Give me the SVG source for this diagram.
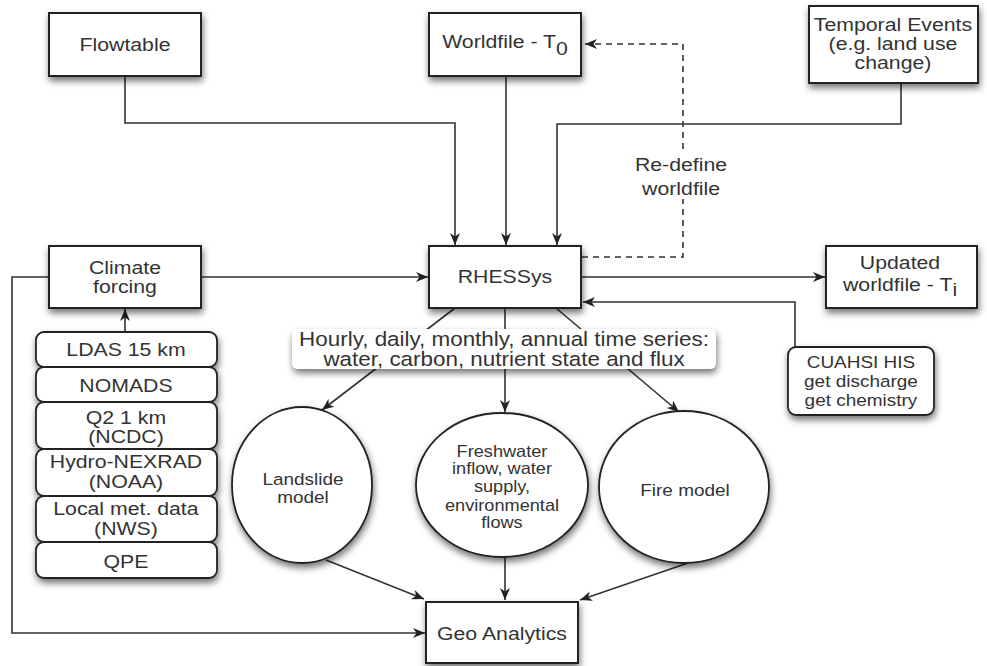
<svg xmlns="http://www.w3.org/2000/svg" width="987" height="666" viewBox="0 0 987 666">
<defs>
<filter id="sh" x="-20%" y="-20%" width="140%" height="150%">
<feDropShadow dx="1" dy="4" stdDeviation="3.5" flood-color="#000" flood-opacity="0.55"/>
</filter>
<marker id="ar" markerUnits="userSpaceOnUse" markerWidth="14" markerHeight="12" refX="12" refY="5" orient="auto" viewBox="0 0 14 12">
<path d="M0,0 L12,5 L0,10 L3.5,5 Z" fill="#222"/>
</marker>
</defs>
<style>
.bx{fill:#fff;stroke:#222;stroke-width:2}
.rb{fill:#fff;stroke:#222;stroke-width:1.8}
.el{fill:#fff;stroke:#222;stroke-width:1.8}
.ln{fill:none;stroke:#333;stroke-width:1.6}
.da{fill:none;stroke:#333;stroke-width:1.6;stroke-dasharray:6 5}
text{font-family:"Liberation Sans",Arial,sans-serif;fill:#333;text-anchor:middle;transform-box:fill-box;transform-origin:center;transform:scaleX(1.15)}
.m{font-size:18.5px}
.s{font-size:18.5px}
.c{font-size:16.5px}
.e{font-size:16.5px}
.f{font-size:15.8px}
.t{font-size:19.5px}
</style>
<rect width="987" height="666" fill="#fff"/>

<g id="connectors">
<path class="ln" d="M125,76 V123 H455 V245" marker-end="url(#ar)"/>
<path class="ln" d="M506,76 V245" marker-end="url(#ar)"/>
<path class="ln" d="M901,83 V124 H557 V245" marker-end="url(#ar)"/>
<path class="ln" d="M202,277 H428" marker-end="url(#ar)"/>
<path class="ln" d="M581,277 H825" marker-end="url(#ar)"/>
<path class="ln" d="M795,347 V302 H583" marker-end="url(#ar)"/>
<path class="ln" d="M125,332 V309" marker-end="url(#ar)"/>
<path class="ln" d="M49,277 H12 V633 H425" marker-end="url(#ar)"/>
<path class="ln" d="M455,308 L322,410" marker-end="url(#ar)"/>
<path class="ln" d="M505,308 V412" marker-end="url(#ar)"/>
<path class="ln" d="M556,308 L679,412" marker-end="url(#ar)"/>
<path class="ln" d="M326,560 L424,599" marker-end="url(#ar)"/>
<path class="ln" d="M505,557 V600" marker-end="url(#ar)"/>
<path class="ln" d="M688,563 L580,600" marker-end="url(#ar)"/>
<path class="da" d="M582,257 H683 V44 H585" marker-end="url(#ar)"/>
<rect x="632" y="153" width="100" height="46" fill="#fff"/>
<text class="s" x="681" y="171">Re-define</text>
<text class="s" x="681" y="195">worldfile</text>
</g>

<g id="flowtable">
<rect class="bx" x="49" y="13" width="152" height="63" filter="url(#sh)"/>
<text class="m" x="125" y="51">Flowtable</text>
</g>

<g id="worldfile">
<rect class="bx" x="429" y="13" width="152" height="63" filter="url(#sh)"/>
<text class="m" x="505" y="48">Worldfile - T<tspan dy="7">0</tspan></text>
</g>

<g id="temporal">
<rect class="bx" x="809" y="6" width="169" height="77" filter="url(#sh)"/>
<text class="m" x="893" y="31">Temporal Events</text>
<text class="m" x="893" y="50">(e.g. land use</text>
<text class="m" x="893" y="69">change)</text>
</g>

<g id="climate">
<rect class="bx" x="49" y="246" width="152" height="62" filter="url(#sh)"/>
<text class="m" x="125" y="274">Climate</text>
<text class="m" x="125" y="293">forcing</text>
</g>

<g id="rhessys">
<rect class="bx" x="429" y="246" width="152" height="62" filter="url(#sh)"/>
<text class="m" x="505" y="283">RHESSys</text>
</g>

<g id="updated">
<rect class="bx" x="826" y="246" width="151" height="62" filter="url(#sh)"/>
<text class="m" x="900" y="269">Updated</text>
<text class="m" x="900" y="291">worldfile - T<tspan dy="5">i</tspan></text>
</g>

<g id="timeseries">
<rect class="rb" x="292" y="329" width="424" height="40" rx="6" style="stroke:none" filter="url(#sh)"/>
<text class="t" x="504" y="346">Hourly, daily, monthly, annual time series:</text>
<text class="t" x="504" y="366">water, carbon, nutrient state and flux</text>
</g>

<g id="cuahsi">
<rect class="rb" x="788" y="347" width="146" height="68" rx="8" filter="url(#sh)"/>
<text class="c" x="861" y="368">CUAHSI HIS</text>
<text class="c" x="861" y="387">get discharge</text>
<text class="c" x="861" y="406">get chemistry</text>
</g>

<g id="sources">
<g filter="url(#sh)">
<rect class="rb" x="36" y="332" width="181" height="35" rx="8"/>
<rect class="rb" x="36" y="367" width="181" height="35" rx="8"/>
<rect class="rb" x="36" y="402" width="181" height="47" rx="8"/>
<rect class="rb" x="36" y="449" width="181" height="47" rx="8"/>
<rect class="rb" x="36" y="496" width="181" height="46" rx="8"/>
<rect class="rb" x="36" y="542" width="181" height="36" rx="8"/>
</g>
<text class="s" x="126" y="356">LDAS 15 km</text>
<text class="s" x="126" y="392">NOMADS</text>
<text class="s" x="126" y="424">Q2 1 km</text>
<text class="s" x="126" y="443">(NCDC)</text>
<text class="s" x="126" y="468">Hydro-NEXRAD</text>
<text class="s" x="126" y="488">(NOAA)</text>
<text class="s" x="126" y="515">Local met. data</text>
<text class="s" x="126" y="535">(NWS)</text>
<text class="s" x="126" y="568">QPE</text>
</g>

<g id="landslide">
<ellipse class="el" cx="302" cy="485" rx="70" ry="78" filter="url(#sh)"/>
<text class="e" x="303" y="485">Landslide</text>
<text class="e" x="303" y="503">model</text>
</g>

<g id="freshwater">
<ellipse class="el" cx="502" cy="485" rx="86" ry="72" filter="url(#sh)"/>
<text class="f" x="502" y="457">Freshwater</text>
<text class="f" x="502" y="474">inflow, water</text>
<text class="f" x="502" y="492">supply,</text>
<text class="f" x="502" y="511">environmental</text>
<text class="f" x="502" y="528">flows</text>
</g>

<g id="fire">
<ellipse class="el" cx="684" cy="487" rx="85" ry="76" filter="url(#sh)"/>
<text class="e" x="685" y="496">Fire model</text>
</g>

<g id="geo">
<rect class="bx" x="426" y="602" width="152" height="61" filter="url(#sh)"/>
<text class="m" x="502" y="640">Geo Analytics</text>
</g>
</svg>
